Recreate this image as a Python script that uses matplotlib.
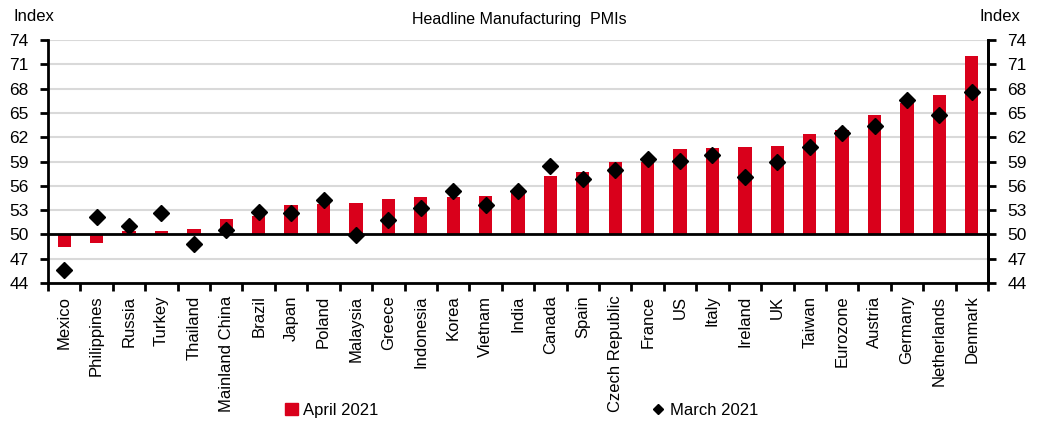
import numpy as np
import matplotlib.pyplot as plt
from matplotlib.lines import Line2D
from matplotlib.patches import Patch

plt.rcParams['font.family'] = ['Liberation Sans', 'DejaVu Sans']
plt.rcParams['font.size'] = 12

countries = ["Mexico", "Philippines", "Russia", "Turkey", "Thailand", "Mainland China",
             "Brazil", "Japan", "Poland", "Malaysia", "Greece", "Indonesia", "Korea",
             "Vietnam", "India", "Canada", "Spain", "Czech Republic", "France", "US",
             "Italy", "Ireland", "UK", "Taiwan", "Eurozone", "Austria", "Germany",
             "Netherlands", "Denmark"]
# April 2021 PMI readings (bars)
april = [48.4, 49.0, 50.4, 50.4, 50.7, 51.9, 52.3, 53.6, 53.7, 53.9, 54.4, 54.6, 54.6,
         54.7, 55.5, 57.2, 57.7, 58.9, 58.9, 60.5, 60.7, 60.8, 60.9, 62.4, 62.9, 64.7,
         66.2, 67.2, 72.0]
# March 2021 PMI readings (diamonds)
march = [45.6, 52.2, 51.1, 52.6, 48.8, 50.6, 52.8, 52.7, 54.3, 49.9, 51.8, 53.2, 55.3,
         53.6, 55.4, 58.5, 56.9, 58.0, 59.3, 59.1, 59.8, 57.1, 58.9, 60.8, 62.5, 63.4,
         66.6, 64.7, 67.6]
yticks = [44, 47, 50, 53, 56, 59, 62, 65, 68, 71, 74]

red = "#d9001b"
x = np.arange(len(countries))

fig = plt.figure(figsize=(10.39, 4.25), dpi=100)
ax = fig.add_axes([0.0462, 0.334, 0.9047, 0.572])

ax.bar(x, np.array(april) - 50, bottom=50, width=0.41, color=red, zorder=2)
ax.plot(x, march, linestyle="none", marker="D", markersize=8, color="black", zorder=3)
ax.axhline(50, color="black", linewidth=2, zorder=2.5)

ax.set_ylim(44, 74)
ax.set_xlim(-0.5, len(countries) - 0.5)
ax.set_yticks(yticks)
ax.grid(axis="y", color="#d9d9d9", linewidth=1.5, zorder=0)
ax.set_axisbelow(True)

# ticks sit on category boundaries, labels in the middle
ax.set_xticks(np.arange(len(countries) + 1) - 0.5)
ax.set_xticklabels([])
ax.set_xticks(x, minor=True)
ax.set_xticklabels(countries, minor=True, rotation=90)
ax.tick_params(axis="x", which="major", direction="out", length=6, width=2)
ax.tick_params(axis="x", which="minor", length=0, pad=9)
ax.tick_params(axis="y", direction="out", length=6, width=2, pad=8, labelsize=12.5)

for side in ["left", "right", "bottom"]:
    ax.spines[side].set_linewidth(2)
ax.spines["top"].set_visible(False)

ax2 = ax.twinx()
ax2.set_ylim(ax.get_ylim())
ax2.set_yticks(yticks)
ax2.tick_params(axis="y", direction="out", length=6, width=2, pad=8, labelsize=12.5)
ax2.spines["right"].set_linewidth(2)
ax2.spines["top"].set_visible(False)
ax2.spines["left"].set_visible(False)
ax2.spines["bottom"].set_visible(False)

fig.text(0.5, 0.953, "Headline Manufacturing  PMIs", ha="center", va="center", fontsize=11.5)
fig.text(0.013, 0.962, "Index", ha="left", va="center")
fig.text(0.982, 0.962, "Index", ha="right", va="center")

handles = [Patch(color=red, label="April 2021"),
           Line2D([], [], linestyle="none", marker="D", markersize=5, color="black",
                  label="March 2021")]
fig.legend(handles=handles, loc="center", bbox_to_anchor=(0.502, 0.035), ncol=2,
           frameon=False, columnspacing=16.4, handlelength=0.8, handletextpad=0.3,
           handleheight=0.8)

fig.savefig("out.png", dpi=100)
